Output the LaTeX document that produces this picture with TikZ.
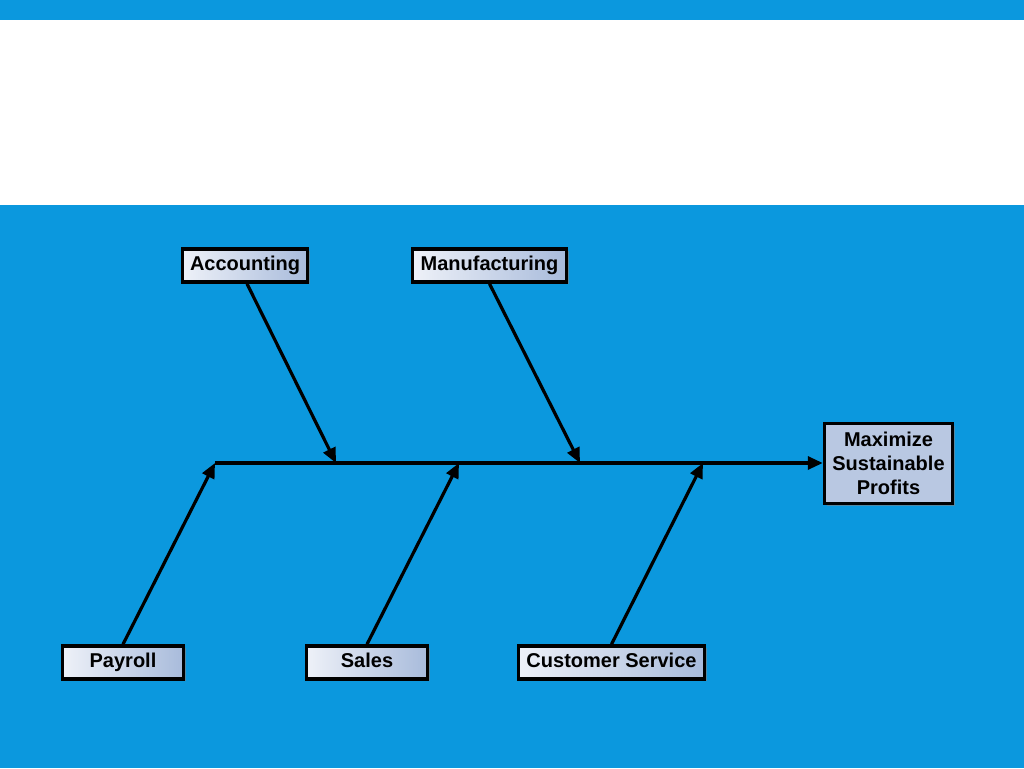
\documentclass[tikz,border=0pt]{standalone}
\usepackage{fontspec}
\setmainfont{Liberation Sans}
\usetikzlibrary{arrows.meta,shadows}
\definecolor{slideblue}{HTML}{0B98DE}
\definecolor{boxleft}{HTML}{EEF1F8}
\definecolor{boxright}{HTML}{A8BBDB}
\definecolor{effectfill}{HTML}{B9C8E2}
\tikzset{
    causebox/.style = {draw, line width = 3.5pt, left color = boxleft, right color = boxright,
        drop shadow = {shadow xshift = 2pt, shadow yshift = -2pt, opacity = 0.6},
        font = \bfseries\fontsize{20}{23}\selectfont, inner sep = 0pt,
        text height = 14pt, text depth = 4pt},
    effectbox/.style = {draw, line width = 3.5pt, fill = effectfill,
        drop shadow = {shadow xshift = 2pt, shadow yshift = -2pt, opacity = 0.6},
        font = \bfseries\fontsize{20}{24}\selectfont, align = center,
        minimum width = 128pt, minimum height = 80pt, inner sep = 0pt},
    bone/.style = {line width = 3.2pt, -{Triangle[length = 15pt, width = 13pt]}}
}
\begin{document}
\begin{tikzpicture}[x = 1pt, y = -1pt]
    % slide background
    \fill[slideblue] (0,0) rectangle (1024,768);
    \fill[white] (0,20) rectangle (1024,205);
    \useasboundingbox (0,0) rectangle (1024,768);

    % causes
    \node[causebox, minimum width = 125pt, minimum height = 33pt] (acct) at (245, 265.5) {Accounting};
    \node[causebox, minimum width = 154pt, minimum height = 33pt] (manu) at (489.5, 265.5) {Manufacturing};
    \node[causebox, minimum width = 121pt, minimum height = 33pt] (payroll) at (123, 662.5) {Payroll};
    \node[causebox, minimum width = 121pt, minimum height = 33pt] (sales) at (367, 662.5) {Sales};
    \node[causebox, minimum width = 186pt, minimum height = 33pt] (cust) at (611.5, 662.5) {Customer Service};

    % effect
    \node[effectbox] (effect) at (888.5, 463.5) {Maximize\\Sustainable\\Profits};

    % spine
    \coordinate (tail) at (215, 463);
    \coordinate (acctend) at (336, 463);
    \coordinate (manuend) at (580, 463);
    \coordinate (salesend) at (459, 463);
    \coordinate (custend) at (703, 463);
    \draw[bone] (tail) -- (effect.west |- tail);

    % bones
    \draw[bone] (acct.south) ++(2,0) -- (acctend);
    \draw[bone] (manu.south) -- (manuend);
    \draw[bone] (payroll.north) -- (tail);
    \draw[bone] (sales.north) -- (salesend);
    \draw[bone] (cust.north) -- (custend);
\end{tikzpicture}
\end{document}
